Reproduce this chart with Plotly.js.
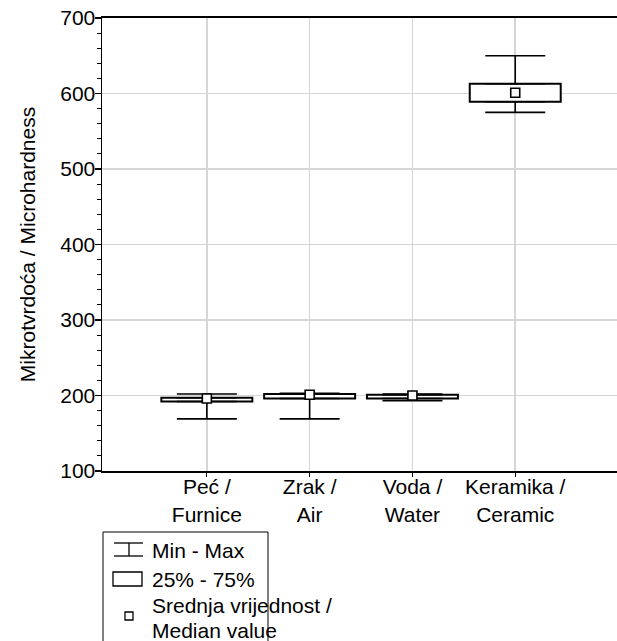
<!DOCTYPE html>
<html>
<head>
<meta charset="utf-8">
<script src="https://cdn.plot.ly/plotly-3.0.1.min.js"></script>
<style>html,body{margin:0;padding:0;background:#fff;}#chart{width:617px;height:641px;}</style>
</head>
<body>
<div id="chart"></div>
<script>
// ---- data ----
const categories = ['Peć /<br>Furnice', 'Zrak /<br>Air', 'Voda /<br>Water', 'Keramika /<br>Ceramic'];
const minVals = [169, 169, 193, 575];
const q1Vals = [192, 196, 196, 589];
const medianVals = [196, 201, 200, 601];
const q3Vals = [197, 202, 201, 613];
const maxVals = [202, 203, 202, 650];
const yTickVals = [100, 200, 300, 400, 500, 600, 700];
const legendLabels = ['Min - Max', '25% - 75%', 'Srednja vrijednost /', 'Median value'];
const yTitle = 'Mikrotvrdoća / Microhardness';

// ---- layout helpers ----
const W = 617, H = 641;
const M = {l: 102, r: 0, t: 18, b: 170};
const pw = W - M.l - M.r, ph = H - M.t - M.b;
const px = x => (x - M.l) / pw;
const py = y => (H - M.b - y) / ph;
const FONT = 'Liberation Sans, Arial, Helvetica, sans-serif';
const FS = 21;

const traces = [
  {
    type: 'bar', x: categories, base: q1Vals,
    y: q3Vals.map((v, i) => v - q1Vals[i]),
    width: 0.885,
    marker: {color: 'white', line: {color: 'black', width: 2}},
    hoverinfo: 'skip', showlegend: false
  },
  {
    type: 'scatter', mode: 'markers', x: categories, y: q3Vals,
    marker: {color: 'rgba(0,0,0,0)', size: 1},
    error_y: {type: 'data', symmetric: false, array: maxVals.map((v, i) => v - q3Vals[i]),
      arrayminus: q3Vals.map(() => 0), width: 30, thickness: 1.6, color: 'black'},
    hoverinfo: 'skip', showlegend: false
  },
  {
    type: 'scatter', mode: 'markers', x: categories, y: q1Vals,
    marker: {color: 'rgba(0,0,0,0)', size: 1},
    error_y: {type: 'data', symmetric: false, array: q1Vals.map(() => 0),
      arrayminus: q1Vals.map((v, i) => v - minVals[i]), width: 30, thickness: 1.6, color: 'black'},
    hoverinfo: 'skip', showlegend: false
  },
  {
    type: 'scatter', mode: 'markers', x: categories, y: medianVals,
    marker: {symbol: 'square', size: 9, color: 'white', line: {color: 'black', width: 1.6}},
    showlegend: false
  }
];

const L = '#000';
const shapes = [
  // legend frame
  {type: 'rect', xref: 'paper', yref: 'paper', x0: px(103), x1: px(268), y0: py(532), y1: py(650),
   line: {color: L, width: 1}, fillcolor: 'white', layer: 'above'},
  // Min-Max glyph
  {type: 'line', xref: 'paper', yref: 'paper', x0: px(114), x1: px(143), y0: py(543), y1: py(543), line: {color: L, width: 1.3}},
  {type: 'line', xref: 'paper', yref: 'paper', x0: px(129), x1: px(129), y0: py(543), y1: py(556), line: {color: L, width: 1.3}},
  {type: 'line', xref: 'paper', yref: 'paper', x0: px(114), x1: px(143), y0: py(556), y1: py(556), line: {color: L, width: 1.3}},
  // 25-75 glyph
  {type: 'rect', xref: 'paper', yref: 'paper', x0: px(113), x1: px(142), y0: py(572), y1: py(586), line: {color: L, width: 1.3}, fillcolor: 'white'},
  // median glyph
  {type: 'rect', xref: 'paper', yref: 'paper', x0: px(125), x1: px(133), y0: py(612), y1: py(620), line: {color: L, width: 1.3}, fillcolor: 'white'}
];

const legY = [550, 579, 605, 630];
const annotations = legendLabels.map((t, i) => ({
  xref: 'paper', yref: 'paper', x: px(150), y: py(legY[i]), xanchor: 'left', yanchor: 'middle',
  text: t, showarrow: false, font: {family: FONT, size: FS, color: 'black'}
}));

const layout = {
  width: W, height: H,
  margin: M,
  paper_bgcolor: 'white', plot_bgcolor: 'white',
  showlegend: false,
  font: {family: FONT, size: FS, color: 'black'},
  xaxis: {
    type: 'category', range: [-1.02, 3.99],
    showgrid: true, gridcolor: '#d6d6d6', gridwidth: 1.5,
    showline: true, linecolor: 'black', linewidth: 2, mirror: true,
    ticks: 'outside', ticklen: 4, tickwidth: 1, tickcolor: 'black',
    ticklabelstandoff: -8,
    tickfont: {family: FONT, size: FS}, zeroline: false, fixedrange: true
  },
  yaxis: {
    range: [100, 700], tickvals: yTickVals,
    showgrid: true, gridcolor: '#d6d6d6', gridwidth: 1.5,
    showline: true, linecolor: 'black', linewidth: 1.5,
    ticks: 'outside', ticklen: 6, tickwidth: 1.3, tickcolor: 'black',
    ticklabelstandoff: -5,
    minor: {dtick: 20, ticks: 'outside', ticklen: 4, tickwidth: 1, tickcolor: 'black', showgrid: false},
    tickfont: {family: FONT, size: FS}, zeroline: false,
    title: {text: yTitle, font: {family: FONT, size: FS}, standoff: 19},
    automargin: false
  },
  shapes: shapes,
  annotations: annotations
};

Plotly.newPlot('chart', traces, layout, {displayModeBar: false, staticPlot: true});
</script>
</body>
</html>
